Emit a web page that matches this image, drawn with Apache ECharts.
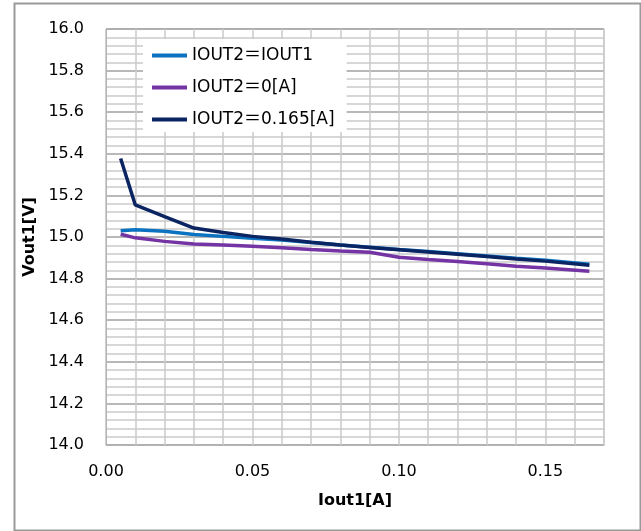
<!DOCTYPE html>
<html>
<head>
<meta charset="utf-8">
<script src="https://cdn.jsdelivr.net/npm/echarts@6/dist/echarts.min.js"></script>
<style>
html,body{margin:0;padding:0;background:#fff;}
#chart{width:641px;height:531px;}
</style>
</head>
<body>
<div id="chart"></div>
<script>
var xValues = [0.005, 0.01, 0.02, 0.03, 0.04, 0.05, 0.06, 0.07, 0.08, 0.09, 0.10, 0.11, 0.12, 0.13, 0.14, 0.15, 0.165];
var seriesNames = ['IOUT2＝IOUT1', 'IOUT2＝0[A]', 'IOUT2＝0.165[A]'];
var vEqual = [15.030, 15.035, 15.028, 15.012, 15.003, 14.994, 14.985, 14.973, 14.961, 14.951, 14.940, 14.930, 14.920, 14.909, 14.898, 14.888, 14.869];
var vZero  = [15.013, 14.996, 14.979, 14.966, 14.961, 14.956, 14.948, 14.940, 14.933, 14.927, 14.903, 14.892, 14.882, 14.871, 14.859, 14.851, 14.835];
var v165   = [15.377, 15.154, 15.098, 15.043, 15.022, 15.003, 14.990, 14.975, 14.961, 14.950, 14.939, 14.928, 14.917, 14.906, 14.894, 14.884, 14.864];
var colors = ['#0a72c0', '#7434a4', '#0b2462'];

function pairs(ys){ return xValues.map(function(x,i){ return [x, ys[i]]; }); }

var FONT = '"DejaVu Sans", "Noto Sans CJK JP", sans-serif';
var chart = echarts.init(document.getElementById('chart'), null, {renderer:'canvas'});
chart.setOption({
  animation: false,
  backgroundColor: '#fff',
  textStyle: {fontFamily: FONT},
  graphic: [{
    type: 'rect', left: 12, top: 1, silent: true,
    shape: {x: 0, y: 0, width: 626, height: 527},
    style: {fill: 'none', stroke: '#9a9a9a', lineWidth: 2}
  }],
  grid: {left: 106, top: 29, right: 37, bottom: 86, show: true, borderColor: '#b4b4b4', borderWidth: 1, containLabel: false},
  legend: {
    orient: 'vertical', left: 143, top: 39,
    backgroundColor: '#fff',
    padding: [8, 12, 4, 9],
    itemGap: 15,
    icon: 'rect',
    itemWidth: 35, itemHeight: 4,
    data: seriesNames,
    textStyle: {fontFamily: FONT, fontSize: 17, color: '#000'}
  },
  xAxis: {
    type: 'value', min: 0, max: 0.17, interval: 0.01,
    name: 'Iout1[A]', nameLocation: 'middle', nameGap: 48,
    nameTextStyle: {fontFamily: FONT, fontSize: 16, fontWeight: 'bold', color: '#000'},
    axisLine: {show: true, lineStyle: {color: '#b4b4b4'}},
    axisTick: {show: false},
    axisLabel: {
      fontFamily: FONT, fontSize: 16, color: '#000', margin: 19,
      showMaxLabel: false,
      formatter: function(v){ var r = v/0.05; return Math.abs(r - Math.round(r)) < 1e-6 ? v.toFixed(2) : ''; }
    },
    splitLine: {show: true, lineStyle: {color: '#cacaca', width: 1.5}}
  },
  yAxis: {
    type: 'value', min: 14, max: 16, interval: 0.2,
    name: 'Vout1[V]', nameLocation: 'middle', nameGap: 64, nameRotate: 90,
    nameTextStyle: {fontFamily: FONT, fontSize: 16, fontWeight: 'bold', color: '#000'},
    axisLine: {show: true, lineStyle: {color: '#b4b4b4'}},
    axisTick: {show: false},
    axisLabel: {fontFamily: FONT, fontSize: 16, color: '#000', margin: 22,
      formatter: function(v){ return v.toFixed(1); }},
    splitLine: {show: true, lineStyle: {color: '#a0a0a0', width: 1.5}},
    minorTick: {show: false, splitNumber: 5},
    minorSplitLine: {show: true, lineStyle: {color: '#cacaca', width: 1.5}}
  },
  series: [
    {name: seriesNames[0], type: 'line', data: pairs(vEqual), symbol: 'none', lineStyle: {width: 3.5, color: colors[0]}, itemStyle: {color: colors[0]}, z: 3},
    {name: seriesNames[1], type: 'line', data: pairs(vZero), symbol: 'none', lineStyle: {width: 3.5, color: colors[1]}, itemStyle: {color: colors[1]}, z: 3},
    {name: seriesNames[2], type: 'line', data: pairs(v165), symbol: 'none', lineStyle: {width: 3.5, color: colors[2]}, itemStyle: {color: colors[2]}, z: 4}
  ]
});
</script>
</body>
</html>
